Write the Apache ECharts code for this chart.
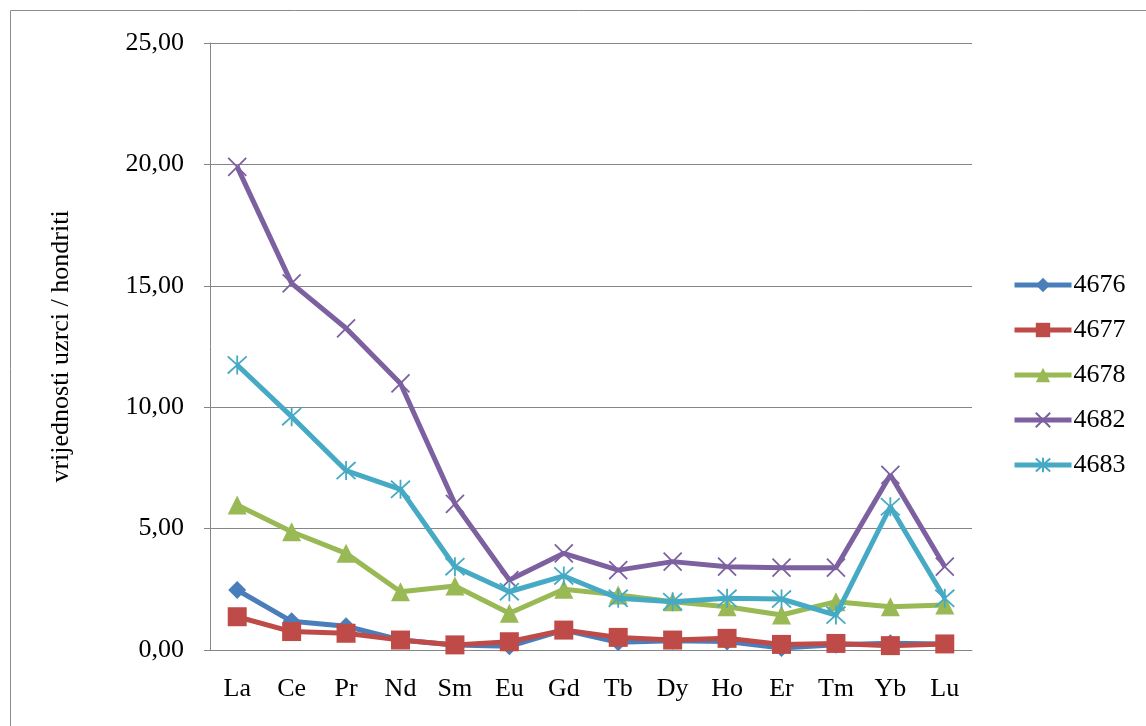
<!DOCTYPE html>
<html><head><meta charset="utf-8">
<script src="https://cdn.jsdelivr.net/npm/echarts@6/dist/echarts.min.js"></script>
<style>html,body{margin:0;padding:0;background:#fff}#c{width:1146px;height:726px}</style>
</head><body><div id="c"></div>
<script>
const categories = ['La','Ce','Pr','Nd','Sm','Eu','Gd','Tb','Dy','Ho','Er','Tm','Yb','Lu'];
const s4676 = [2.47,1.18,0.98,0.41,0.21,0.15,0.82,0.32,0.38,0.35,0.08,0.22,0.28,0.25];
const s4677 = [1.37,0.76,0.69,0.41,0.21,0.34,0.82,0.52,0.41,0.48,0.23,0.27,0.18,0.25];
const s4678 = [5.97,4.87,3.98,2.40,2.64,1.51,2.50,2.27,1.99,1.78,1.44,1.99,1.78,1.85];
const s4682 = [19.9,15.1,13.25,10.98,6.02,2.88,3.98,3.29,3.64,3.43,3.39,3.39,7.21,3.43];
const s4683 = [11.74,9.61,7.39,6.62,3.43,2.40,3.05,2.13,1.99,2.13,2.10,1.44,5.90,2.13];
const seriesNames = ['4676','4677','4678','4682','4683'];
const yTicks = {min:0, max:25, interval:5};

const colors = ['#4A7EBB','#BE4B48','#98B954','#7D60A0','#46AAC5'];
const font = '"Liberation Serif","Times New Roman",serif';
const xPath = 'path://M0 0 L10 10 M10 0 L0 10';
const starPath = 'path://M5 0 L5 10 M0.5 0.5 L9.5 9.5 M9.5 0.5 L0.5 9.5';
const data = [s4676,s4677,s4678,s4682,s4683];
const symbols = ['diamond','rect','triangle',xPath,starPath];
const sizes = [18,19,19,18,19];

const chart = echarts.init(document.getElementById('c'), null, {renderer:'canvas'});
chart.setOption({
  animation:false,
  backgroundColor:'#fff',
  color: colors,
  graphic:[{type:'rect', shape:{x:10.5,y:10.5,width:1160,height:740}, style:{fill:'none', stroke:'#8c8c8c', lineWidth:1}, silent:true}],
  grid:{left:210, right:174, top:43, bottom:76},
  legend:{
    orient:'vertical', left:1007, top:267, itemGap:19, itemWidth:57, itemHeight:18,
    lineStyle:{width:5},
    textStyle:{fontFamily:font, fontSize:26, color:'#000', padding:[0,0,0,-3]},
    data: seriesNames
  },
  xAxis:{
    type:'category', data:categories, boundaryGap:true,
    axisLine:{lineStyle:{color:'#868686', width:1}},
    axisTick:{show:false},
    axisLabel:{fontFamily:font, fontSize:26, color:'#000', margin:26}
  },
  yAxis:{
    type:'value', min:yTicks.min, max:yTicks.max, interval:yTicks.interval,
    name:'vrijednosti uzrci / hondriti', nameLocation:'middle', nameGap:136, nameRotate:90,
    nameTextStyle:{fontFamily:font, fontSize:26, color:'#000'},
    axisLine:{show:true, lineStyle:{color:'#868686', width:1}},
    axisTick:{show:true, length:6, lineStyle:{color:'#868686'}},
    splitLine:{lineStyle:{color:'#868686', width:1}},
    axisLabel:{fontFamily:font, fontSize:26, color:'#000', margin:26,
      formatter: v => v.toFixed(2).replace('.', ',')}
  },
  series: seriesNames.map((n,i)=>({
    name:n, type:'line', data:data[i],
    symbol:symbols[i], symbolSize:sizes[i],
    lineStyle:{width:5, color:colors[i]},
    itemStyle: i>=3 ? {color:colors[i], borderColor:colors[i], borderWidth:1.8} : {color:colors[i]},
    z: [2,3,4,5,6][i]
  }))
});
</script></body></html>
